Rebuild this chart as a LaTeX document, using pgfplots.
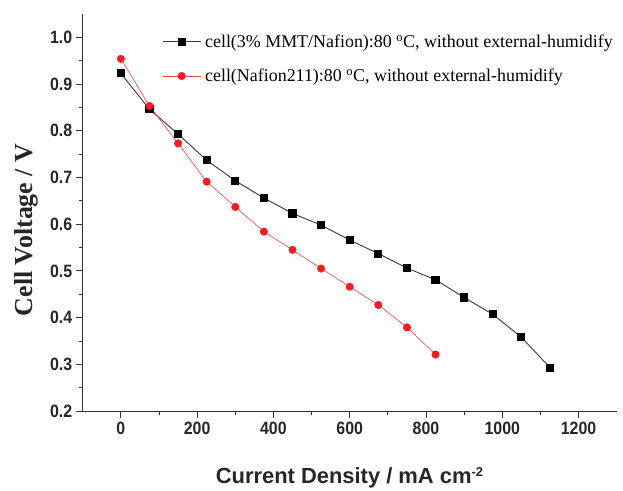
\documentclass[border=0pt]{standalone}
\usepackage{pgfplots}
\pgfplotsset{compat=1.18}
\usepackage{fontspec}
\setmainfont{Liberation Serif}
\newfontfamily\arialfont{Liberation Sans}
\definecolor{myred}{RGB}{240,30,36}
\definecolor{mygray}{RGB}{55,55,55}
\begin{document}
\begin{tikzpicture}
\begin{axis}[name=ax, scale only axis, width=534bp, height=397bp,
 xmin=-100, xmax=1300, ymin=0.2, ymax=1.05,
 axis x line*=bottom, axis y line*=left,
 axis line style={-, line width=0.8bp, black!80},
 xtick={0,200,400,600,800,1000,1200},
 ytick={0.2,0.3,0.4,0.5,0.6,0.7,0.8,0.9,1.0},
 minor x tick num=1, minor y tick num=1,
 tick align=outside, major tick length=7bp, minor tick length=4bp,
 tick style={line width=0.8bp, black!80},
 /pgf/number format/assume math mode=true,
 /pgf/number format/1000 sep={},
 yticklabel style={/pgf/number format/fixed, /pgf/number format/fixed zerofill, /pgf/number format/precision=1},
 tick label style={font=\arialfont\bfseries\fontsize{16}{18}\selectfont, text=black!85, yscale=1.12},
 xlabel={\arialfont\bfseries Current Density / mA cm\textsuperscript{\fontsize{13}{14}\selectfont -2}},
 xlabel style={font=\fontsize{22}{24}\selectfont, at={(axis description cs:0.5,0)}, anchor=base, yshift=-73bp, text=black!85},
 ylabel={\bfseries Cell Voltage / V},
 ylabel style={font=\fontsize{26}{28}\selectfont, at={(axis description cs:-0.106,0.456)}, anchor=center, text=black!85},
 legend style={draw=none, fill=none, at={(axis description cs:0.1485,0.948)}, anchor=north west, font=\fontsize{18}{20}\selectfont, inner sep=0pt, row sep=20bp, nodes={inner xsep=4bp, inner ysep=0bp}},
 legend cell align=left,
 legend image code/.code={\draw[mark repeat=2,mark phase=2,#1] plot coordinates {(0bp,0bp)(19bp,0bp)(38bp,0bp)};},
]
\addplot[mygray, line width=0.9bp, mark=square*, mark size=3.6bp, mark options={fill=black, draw=black, solid}] coordinates {
(0,0.923)(75,0.846)(150,0.793)(225,0.737)(300,0.693)(375,0.656)(450,0.623)(525,0.598)(600,0.566)(675,0.537)(750,0.506)(825,0.481)(900,0.443)(975,0.407)(1050,0.358)(1125,0.293)};
\addlegendentry{cell(3\% MMT/Nafion):80 \textsuperscript{o}C, without external-humidify}
\addplot[myred!85, line width=0.6bp, mark=*, mark size=3.7bp, mark options={fill=myred, draw=myred}] coordinates {
(0,0.954)(75,0.853)(150,0.773)(225,0.691)(300,0.637)(375,0.584)(450,0.545)(525,0.505)(600,0.466)(675,0.427)(750,0.379)(825,0.321)};
\addlegendentry{cell(Nafion211):80 \textsuperscript{o}C, without external-humidify}
\end{axis}
\pgfresetboundingbox
\path[use as bounding box] ([xshift=-82.7bp,yshift=-80bp]ax.south west) rectangle ([xshift=6.3bp,yshift=14bp]ax.north east);
\end{tikzpicture}
\end{document}
